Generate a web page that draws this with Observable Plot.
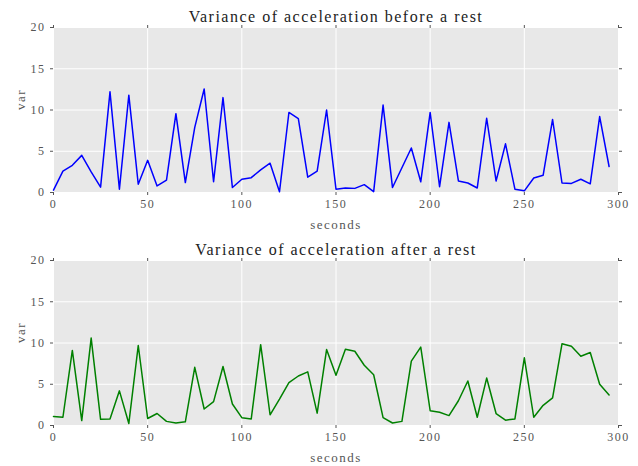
<!DOCTYPE html>
<html>
<head>
<meta charset="utf-8">
<script src="https://cdn.jsdelivr.net/npm/d3@7"></script>
<script src="https://cdn.jsdelivr.net/npm/@observablehq/plot@0.6"></script>
<style>
  html, body { margin: 0; padding: 0; background: #ffffff; }
  #chart svg { display: block; }
  #chart svg, #chart svg text { font-family: "Liberation Serif", serif !important; }
</style>
</head>
<body>
<div id="chart"></div>
<script>
// Time in seconds (every 5 s)
const seconds = [0,5,10,15,20,25,30,35,40,45,50,55,60,65,70,75,80,85,90,95,
  100,105,110,115,120,125,130,135,140,145,150,155,160,165,170,175,180,185,190,195,
  200,205,210,215,220,225,230,235,240,245,250,255,260,265,270,275,280,285,290,295];

// Variance of acceleration before a rest
const varBefore = [0.28,2.6,3.3,4.5,2.5,0.65,12.2,0.4,11.8,1.0,
  3.9,0.8,1.5,9.55,1.2,7.9,12.55,1.3,11.5,0.6,
  1.6,1.8,2.75,3.55,0.1,9.7,8.95,1.85,2.6,10.0,
  0.4,0.55,0.5,0.95,0.1,10.6,0.6,3.0,5.4,1.3,
  9.7,0.7,8.5,1.4,1.15,0.55,9.0,1.4,5.9,0.4,
  0.2,1.75,2.1,8.85,1.15,1.1,1.6,1.05,9.2,3.15];

// Variance of acceleration after a rest
const varAfter = [1.1,1.0,9.1,0.6,10.6,0.75,0.8,4.2,0.25,9.7,
  0.85,1.45,0.5,0.3,0.45,7.05,2.0,2.9,7.15,2.6,
  0.95,0.8,9.8,1.3,3.2,5.2,6.0,6.5,1.5,9.2,
  6.1,9.25,9.0,7.3,6.15,0.95,0.3,0.5,7.8,9.5,
  1.8,1.6,1.2,3.0,5.4,1.0,5.75,1.45,0.65,0.8,
  8.2,1.0,2.45,3.35,9.9,9.6,8.4,8.85,5.0,3.7];

const xTicks = [0, 50, 100, 150, 200, 250, 300];
const yTicks = [0, 5, 10, 15, 20];
const titles = ["Variance of acceleration before a rest", "Variance of acceleration after a rest"];
const xLabel = "seconds";
const yLabel = "var";
const colors = ["#0000ff", "#008000"];

const serif = "Liberation Serif";
const gray = "#555555";

function panel(values, title, color) {
  const data = seconds.map((t, i) => ({t, v: values[i]}));
  const blank = () => "";
  return Plot.plot({
    width: 638,
    height: 233,
    marginTop: 27,
    marginBottom: 41,
    marginLeft: 53,
    marginRight: 20,
    style: {background: "white"},
    x: {domain: [0, 300], label: null},
    y: {domain: [0, 20], label: null},
    marks: [
      Plot.frame({fill: "#e8e8e8", stroke: null}),
      Plot.gridX(xTicks, {stroke: "white", strokeOpacity: 1, strokeWidth: 1}),
      Plot.gridY(yTicks, {stroke: "white", strokeOpacity: 1, strokeWidth: 1}),
      Plot.axisX(xTicks, {anchor: "bottom", tickSize: 3, tickPadding: 4, color: gray, fontSize: 12, label: null}),
      Plot.axisX(xTicks, {anchor: "top", tickSize: 3, tickFormat: blank, color: gray, label: null}),
      Plot.axisY(yTicks, {anchor: "left", tickSize: 3, tickPadding: 5, color: gray, fontSize: 12, label: null}),
      Plot.axisY(yTicks, {anchor: "right", tickSize: 3, tickFormat: blank, color: gray, label: null}),
      Plot.line(data, {x: "t", y: "v", stroke: color, strokeWidth: 1.5}),
      Plot.text([title], {frameAnchor: "top", dy: -6, lineAnchor: "bottom", fontSize: 16, fill: "#222", text: d => d}),
      Plot.text([xLabel], {frameAnchor: "bottom", dy: 36, lineAnchor: "bottom", fontSize: 13, fill: gray, text: d => d}),
      Plot.text([yLabel], {frameAnchor: "left", dx: -33, rotate: -90, fontSize: 13, fill: gray, text: d => d})
    ]
  });
}

const root = document.getElementById("chart");
root.appendChild(panel(varBefore, titles[0], colors[0]));
root.appendChild(panel(varAfter, titles[1], colors[1]));
// loose letter spacing as in the reference
root.querySelectorAll("text").forEach(t => t.style.letterSpacing = "1.5px");
</script>
</body>
</html>
